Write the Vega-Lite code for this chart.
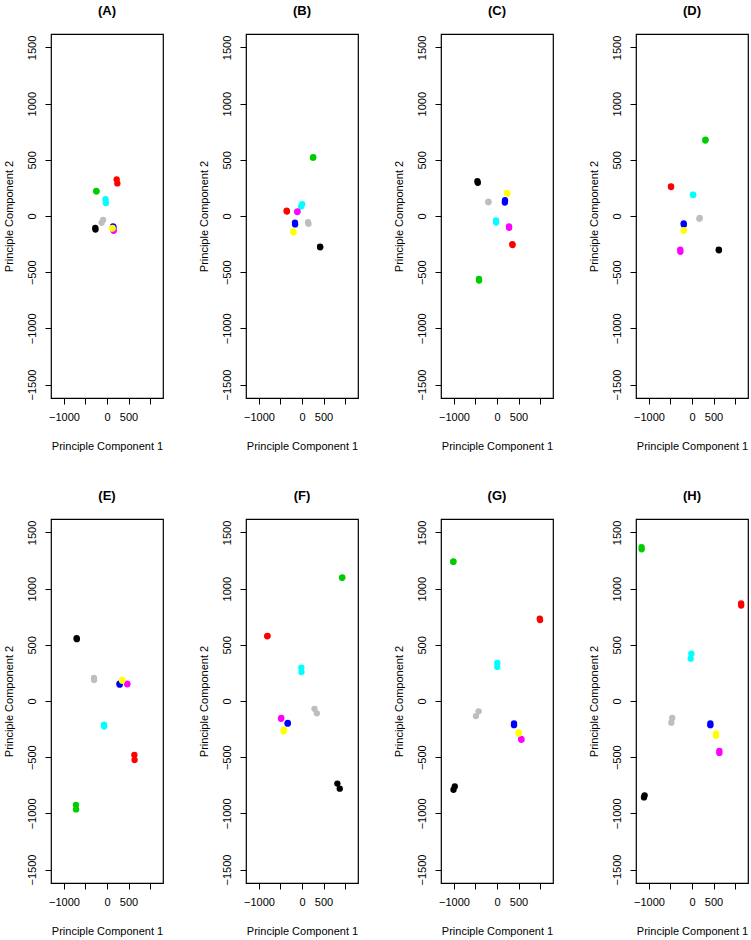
{
  "$schema": "https://vega.github.io/schema/vega-lite/v6.json",
  "background": "white",
  "padding": {"left": 2, "top": 4, "right": 1, "bottom": 2},
  "data": {"values": [
    {"p":"(A)","g":"red","x":225,"y":325},{"p":"(A)","g":"red","x":240,"y":290},
    {"p":"(A)","g":"green","x":-249,"y":223},{"p":"(A)","g":"green","x":-245,"y":218},
    {"p":"(A)","g":"cyan","x":-35,"y":150},{"p":"(A)","g":"cyan","x":-25,"y":116},
    {"p":"(A)","g":"grey","x":-90,"y":-35},{"p":"(A)","g":"grey","x":-125,"y":-60},
    {"p":"(A)","g":"black","x":-272,"y":-105},{"p":"(A)","g":"black","x":-268,"y":-120},
    {"p":"(A)","g":"blue","x":140,"y":-92},{"p":"(A)","g":"blue","x":150,"y":-100},
    {"p":"(A)","g":"magenta","x":155,"y":-131},{"p":"(A)","g":"magenta","x":150,"y":-125},
    {"p":"(A)","g":"yellow","x":123,"y":-113},{"p":"(A)","g":"yellow","x":128,"y":-105},

    {"p":"(B)","g":"red","x":-357,"y":47},{"p":"(B)","g":"red","x":-350,"y":40},
    {"p":"(B)","g":"green","x":256,"y":519},{"p":"(B)","g":"green","x":262,"y":523},
    {"p":"(B)","g":"cyan","x":-20,"y":85},{"p":"(B)","g":"cyan","x":5,"y":105},
    {"p":"(B)","g":"grey","x":140,"y":-55},{"p":"(B)","g":"grey","x":150,"y":-70},
    {"p":"(B)","g":"black","x":419,"y":-273},{"p":"(B)","g":"black","x":422,"y":-278},
    {"p":"(B)","g":"blue","x":-163,"y":-60},{"p":"(B)","g":"blue","x":-160,"y":-75},
    {"p":"(B)","g":"magenta","x":-109,"y":35},{"p":"(B)","g":"magenta","x":-105,"y":40},
    {"p":"(B)","g":"yellow","x":-202,"y":-137},{"p":"(B)","g":"yellow","x":-198,"y":-145},

    {"p":"(C)","g":"red","x":356,"y":-250},{"p":"(C)","g":"red","x":360,"y":-258},
    {"p":"(C)","g":"green","x":-419,"y":-560},{"p":"(C)","g":"green","x":-416,"y":-575},
    {"p":"(C)","g":"cyan","x":-23,"y":-40},{"p":"(C)","g":"cyan","x":-20,"y":-58},
    {"p":"(C)","g":"grey","x":-202,"y":127},{"p":"(C)","g":"grey","x":-198,"y":122},
    {"p":"(C)","g":"black","x":-455,"y":310},{"p":"(C)","g":"black","x":-445,"y":295},
    {"p":"(C)","g":"blue","x":186,"y":140},{"p":"(C)","g":"blue","x":182,"y":120},
    {"p":"(C)","g":"magenta","x":279,"y":-92},{"p":"(C)","g":"magenta","x":282,"y":-105},
    {"p":"(C)","g":"yellow","x":233,"y":205},{"p":"(C)","g":"yellow","x":240,"y":200},

    {"p":"(D)","g":"red","x":-488,"y":264},{"p":"(D)","g":"red","x":-485,"y":258},
    {"p":"(D)","g":"green","x":309,"y":671},{"p":"(D)","g":"green","x":314,"y":680},
    {"p":"(D)","g":"cyan","x":30,"y":187},{"p":"(D)","g":"cyan","x":20,"y":190},
    {"p":"(D)","g":"grey","x":179,"y":-18},{"p":"(D)","g":"grey","x":172,"y":-25},
    {"p":"(D)","g":"black","x":621,"y":-300},{"p":"(D)","g":"black","x":625,"y":-305},
    {"p":"(D)","g":"blue","x":-193,"y":-65},{"p":"(D)","g":"blue","x":-190,"y":-78},
    {"p":"(D)","g":"magenta","x":-272,"y":-300},{"p":"(D)","g":"magenta","x":-270,"y":-318},
    {"p":"(D)","g":"yellow","x":-193,"y":-131},{"p":"(D)","g":"yellow","x":-190,"y":-125},

    {"p":"(E)","g":"red","x":635,"y":-480},{"p":"(E)","g":"red","x":640,"y":-525},
    {"p":"(E)","g":"green","x":-721,"y":-925},{"p":"(E)","g":"green","x":-718,"y":-965},
    {"p":"(E)","g":"cyan","x":-70,"y":-210},{"p":"(E)","g":"cyan","x":-65,"y":-228},
    {"p":"(E)","g":"grey","x":-302,"y":205},{"p":"(E)","g":"grey","x":-300,"y":188},
    {"p":"(E)","g":"black","x":-705,"y":560},{"p":"(E)","g":"black","x":-700,"y":550},
    {"p":"(E)","g":"blue","x":295,"y":145},{"p":"(E)","g":"blue","x":290,"y":155},
    {"p":"(E)","g":"magenta","x":472,"y":148},{"p":"(E)","g":"magenta","x":468,"y":155},
    {"p":"(E)","g":"yellow","x":356,"y":187},{"p":"(E)","g":"yellow","x":352,"y":180},

    {"p":"(F)","g":"red","x":-807,"y":576},{"p":"(F)","g":"red","x":-800,"y":580},
    {"p":"(F)","g":"green","x":930,"y":1096},{"p":"(F)","g":"green","x":935,"y":1100},
    {"p":"(F)","g":"cyan","x":-16,"y":297},{"p":"(F)","g":"cyan","x":-13,"y":258},
    {"p":"(F)","g":"grey","x":290,"y":-70},{"p":"(F)","g":"grey","x":345,"y":-110},
    {"p":"(F)","g":"black","x":821,"y":-735},{"p":"(F)","g":"black","x":876,"y":-780},
    {"p":"(F)","g":"blue","x":-333,"y":-202},{"p":"(F)","g":"blue","x":-330,"y":-195},
    {"p":"(F)","g":"magenta","x":-488,"y":-158},{"p":"(F)","g":"magenta","x":-480,"y":-150},
    {"p":"(F)","g":"yellow","x":-426,"y":-271},{"p":"(F)","g":"yellow","x":-420,"y":-255},

    {"p":"(G)","g":"red","x":993,"y":733},{"p":"(G)","g":"red","x":1000,"y":720},
    {"p":"(G)","g":"green","x":-1016,"y":1238},{"p":"(G)","g":"green","x":-1012,"y":1242},
    {"p":"(G)","g":"cyan","x":7,"y":338},{"p":"(G)","g":"cyan","x":7,"y":303},
    {"p":"(G)","g":"grey","x":-426,"y":-92},{"p":"(G)","g":"grey","x":-489,"y":-134},
    {"p":"(G)","g":"black","x":-980,"y":-760},{"p":"(G)","g":"black","x":-1010,"y":-790},
    {"p":"(G)","g":"blue","x":395,"y":-200},{"p":"(G)","g":"blue","x":395,"y":-215},
    {"p":"(G)","g":"magenta","x":566,"y":-345},{"p":"(G)","g":"magenta","x":562,"y":-338},
    {"p":"(G)","g":"yellow","x":504,"y":-291},{"p":"(G)","g":"yellow","x":500,"y":-280},

    {"p":"(H)","g":"red","x":1140,"y":868},{"p":"(H)","g":"red","x":1142,"y":850},
    {"p":"(H)","g":"green","x":-1170,"y":1370},{"p":"(H)","g":"green","x":-1168,"y":1350},
    {"p":"(H)","g":"cyan","x":-15,"y":421},{"p":"(H)","g":"cyan","x":-30,"y":377},
    {"p":"(H)","g":"grey","x":-460,"y":-151},{"p":"(H)","g":"grey","x":-480,"y":-193},
    {"p":"(H)","g":"black","x":-1100,"y":-840},{"p":"(H)","g":"black","x":-1115,"y":-858},
    {"p":"(H)","g":"blue","x":426,"y":-200},{"p":"(H)","g":"blue","x":426,"y":-215},
    {"p":"(H)","g":"magenta","x":635,"y":-445},{"p":"(H)","g":"magenta","x":635,"y":-462},
    {"p":"(H)","g":"yellow","x":558,"y":-290},{"p":"(H)","g":"yellow","x":558,"y":-310}
  ]},
  "facet": {
    "field": "p", "type": "nominal",
    "header": {"title": null, "labelFont": "Liberation Sans", "labelFontWeight": "bold", "labelFontSize": 13, "labelColor": "black", "labelPadding": 16}
  },
  "columns": 4,
  "spacing": {"row": 37, "column": 33},
  "spec": {
    "width": 112,
    "height": 364,
    "mark": {"type": "point", "filled": true, "shape": "circle", "size": 40, "opacity": 1},
    "encoding": {
      "x": {
        "field": "x", "type": "quantitative",
        "scale": {"domain": [-1300, 1300], "nice": false, "zero": false},
        "axis": {
          "title": "Principle Component 1",
          "format": "d",
          "values": [-1000, -500, 0, 500, 1000],
          "labelExpr": "datum.value == -1000 || datum.value == 0 || datum.value == 500 ? datum.label : ''",
          "labelOverlap": false,
          "labelPadding": 7,
          "titlePadding": 18
        }
      },
      "y": {
        "field": "y", "type": "quantitative",
        "scale": {"domain": [-1620, 1620], "nice": false, "zero": false},
        "axis": {
          "title": "Principle Component 2",
          "format": "d",
          "values": [-1500, -1000, -500, 0, 500, 1000, 1500],
          "labelAngle": -90,
          "labelAlign": "center",
          "labelBaseline": "bottom",
          "labelOverlap": false,
          "labelPadding": 8,
          "titlePadding": 12
        }
      },
      "color": {
        "field": "g", "type": "nominal",
        "scale": {
          "domain": ["red", "green", "cyan", "grey", "black", "blue", "magenta", "yellow"],
          "range": ["#FF0000", "#00CD00", "#00FFFF", "#BEBEBE", "#000000", "#0000FF", "#FF00FF", "#FFFF00"]
        },
        "legend": null
      }
    }
  },
  "resolve": {"axis": {"x": "independent", "y": "independent"}},
  "config": {
    "font": "Liberation Sans",
    "view": {"stroke": "black", "strokeWidth": 1.2},
    "axis": {
      "grid": false,
      "domain": false,
      "ticks": true,
      "tickColor": "black",
      "tickSize": 6,
      "tickWidth": 1,
      "labelFont": "Liberation Sans",
      "labelFontSize": 11,
      "labelColor": "black",
      "titleFont": "Liberation Sans",
      "titleFontSize": 11,
      "titleFontWeight": "normal",
      "titleColor": "black"
    }
  }
}
